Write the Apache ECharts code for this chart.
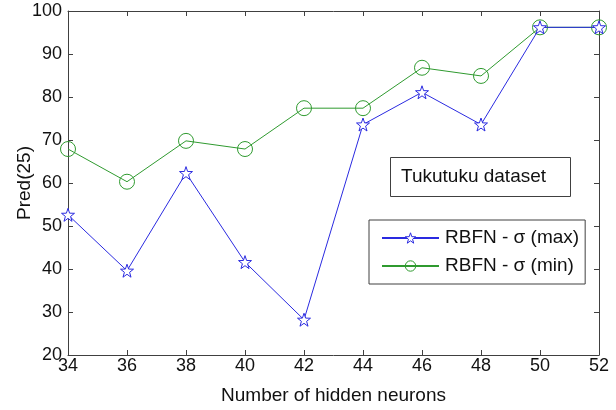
<!DOCTYPE html>
<html>
<head>
<meta charset="utf-8">
<script src="https://cdn.jsdelivr.net/npm/echarts@6/dist/echarts.min.js"></script>
<style>
  html, body { margin: 0; padding: 0; background: #fff; }
  #chart { width: 616px; height: 410px; }
</style>
</head>
<body>
<div id="chart"></div>
<script>
// hidden neuron counts (x axis)
const neurons = [34, 36, 38, 40, 42, 44, 46, 48, 50, 52];
// Pred(25)
const sigmaMax = [52.6, 39.6, 62.3, 41.6, 28.2, 73.6, 81.1, 73.6, 96.2, 96.2];
const sigmaMin = [67.9, 60.3, 69.8, 67.9, 77.4, 77.4, 86.8, 84.9, 96.2, 96.2];

const FONT = '"Liberation Sans", Arial, sans-serif';
const AXIS_COLOR = '#404040';
const STAR = 'path://M0,-10L2.35,-3.24L9.51,-3.09L3.8,1.24L5.88,8.09L0,4L-5.88,8.09L-3.8,1.24L-9.51,-3.09L-2.35,-3.24Z';

const pairs = (ys) => neurons.map((x, i) => [x, ys[i]]);

const axisBase = {
  type: 'value',
  axisLine: { show: true, lineStyle: { color: AXIS_COLOR, width: 1 } },
  axisTick: { show: true, inside: true, length: 5, lineStyle: { color: AXIS_COLOR } },
  splitLine: { show: false },
};

const chart = echarts.init(document.getElementById('chart'));
chart.setOption({
  animation: false,
  textStyle: { fontFamily: FONT },
  grid: { left: 68, right: 17, top: 11, bottom: 55, outerBoundsMode: 'none' },
  title: {
    text: 'Tukutuku dataset',
    left: 390,
    top: 157,
    borderColor: AXIS_COLOR,
    borderWidth: 1,
    padding: [10, 25, 10, 11],
    textStyle: { fontSize: 19, fontWeight: 'normal', color: '#111', fontFamily: FONT, lineHeight: 20 },
  },
  legend: {
    orient: 'vertical',
    left: 369,
    top: 220,
    borderColor: AXIS_COLOR,
    borderWidth: 1,
    padding: [7, 6, 7, 12],
    itemWidth: 57,
    itemHeight: 13,
    itemGap: 6,
    itemStyle: { borderWidth: 1 },
    textStyle: { fontSize: 19, color: '#111', fontFamily: FONT, padding: [0, 0, 0, 1], lineHeight: 22 },
    data: ['RBFN - σ (max)', 'RBFN - σ (min)'],
  },
  xAxis: [
    {
      ...axisBase,
      min: 34,
      max: 52,
      interval: 2,
      name: 'Number of hidden neurons',
      nameLocation: 'middle',
      nameGap: 31,
      nameMoveOverlap: false,
      nameTextStyle: { fontSize: 19, color: '#111', fontFamily: FONT },
      axisLabel: { fontSize: 18, color: '#111', margin: 2, fontFamily: FONT },
    },
    {
      ...axisBase,
      position: 'top',
      min: 34,
      max: 52,
      interval: 2,
      axisLabel: { show: false },
    },
  ],
  yAxis: [
    {
      ...axisBase,
      min: 20,
      max: 100,
      interval: 10,
      name: 'Pred(25)',
      nameLocation: 'middle',
      nameGap: 34,
      nameMoveOverlap: false,
      nameTextStyle: { fontSize: 19, color: '#111', fontFamily: FONT },
      axisLabel: { fontSize: 18, color: '#111', margin: 6, fontFamily: FONT },
    },
    {
      ...axisBase,
      position: 'right',
      min: 20,
      max: 100,
      interval: 10,
      axisLabel: { show: false },
    },
  ],
  series: [
    {
      name: 'RBFN - σ (max)',
      type: 'line',
      data: pairs(sigmaMax),
      symbol: STAR,
      symbolSize: 13,
      itemStyle: { color: '#ffffff', borderColor: '#2a2ae0', borderWidth: 1 },
      lineStyle: { color: '#2a2ae0', width: 1 },
      z: 3,
    },
    {
      name: 'RBFN - σ (min)',
      type: 'line',
      data: pairs(sigmaMin),
      symbol: 'circle',
      symbolSize: 15,
      itemStyle: { color: 'rgba(0,0,0,0)', borderColor: '#2f9a2f', borderWidth: 1 },
      lineStyle: { color: '#2f9a2f', width: 1 },
      z: 2,
    },
  ],
});
</script>
</body>
</html>
